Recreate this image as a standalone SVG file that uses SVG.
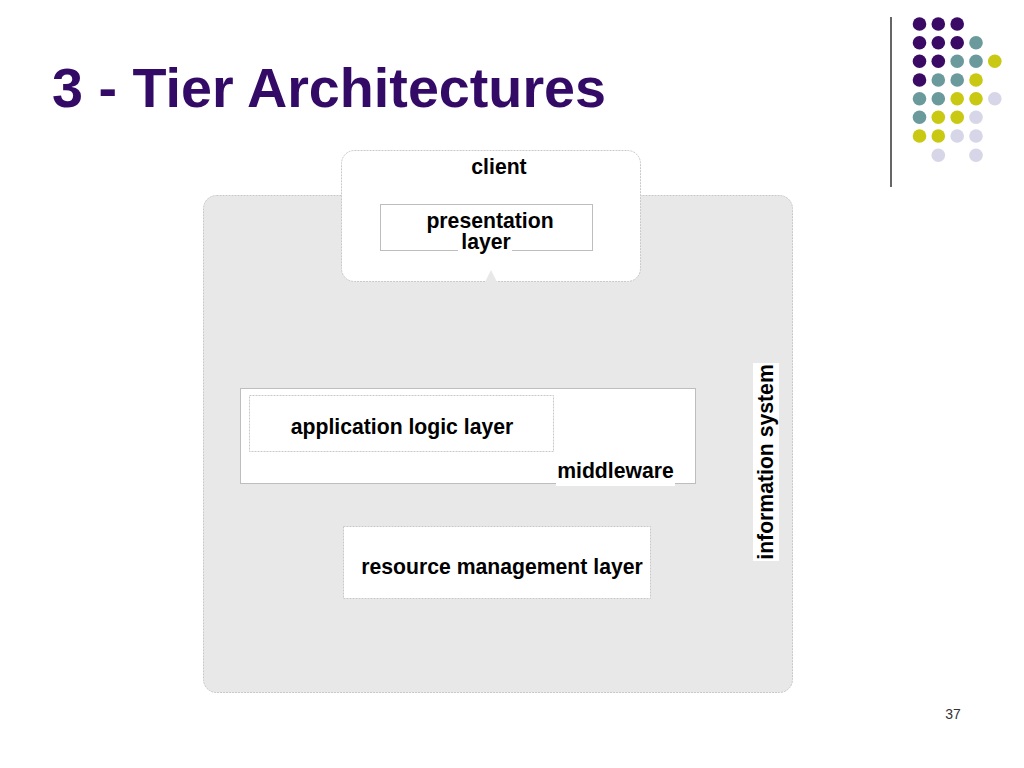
<svg xmlns="http://www.w3.org/2000/svg" width="1024" height="768" viewBox="0 0 1024 768">
<style>
.lbl{font-family:"Liberation Sans",Arial,sans-serif;font-weight:bold;font-size:21.2px;fill:#000}
.box{fill:#fff;stroke:#bdbdbd;stroke-width:1}
.dot{stroke:#c8c8c8;stroke-width:1;stroke-dasharray:2 1}
.p{fill:#3a0a64}.t{fill:#6b9a9c}.y{fill:#c9c914}.l{fill:#d6d6e8}
</style>
<rect width="1024" height="768" fill="#fff"/>
<g id="decoration">
<line x1="891" y1="17" x2="891" y2="187" stroke="#333" stroke-width="1.5"/>
<circle class="p" cx="919.5" cy="24" r="6.8"/><circle class="p" cx="938.3" cy="24" r="6.8"/><circle class="p" cx="957.2" cy="24" r="6.8"/>
<circle class="p" cx="919.5" cy="42.7" r="6.8"/><circle class="p" cx="938.3" cy="42.7" r="6.8"/><circle class="p" cx="957.2" cy="42.7" r="6.8"/><circle class="t" cx="976" cy="42.7" r="6.8"/>
<circle class="p" cx="919.5" cy="61.3" r="6.8"/><circle class="p" cx="938.3" cy="61.3" r="6.8"/><circle class="t" cx="957.2" cy="61.3" r="6.8"/><circle class="t" cx="976" cy="61.3" r="6.8"/><circle class="y" cx="994.8" cy="61.3" r="6.8"/>
<circle class="p" cx="919.5" cy="80" r="6.8"/><circle class="t" cx="938.3" cy="80" r="6.8"/><circle class="t" cx="957.2" cy="80" r="6.8"/><circle class="y" cx="976" cy="80" r="6.8"/>
<circle class="t" cx="919.5" cy="98.7" r="6.8"/><circle class="t" cx="938.3" cy="98.7" r="6.8"/><circle class="y" cx="957.2" cy="98.7" r="6.8"/><circle class="y" cx="976" cy="98.7" r="6.8"/><circle class="l" cx="994.8" cy="98.7" r="6.8"/>
<circle class="t" cx="919.5" cy="117.3" r="6.8"/><circle class="y" cx="938.3" cy="117.3" r="6.8"/><circle class="y" cx="957.2" cy="117.3" r="6.8"/><circle class="l" cx="976" cy="117.3" r="6.8"/>
<circle class="y" cx="919.5" cy="136" r="6.8"/><circle class="y" cx="938.3" cy="136" r="6.8"/><circle class="l" cx="957.2" cy="136" r="6.8"/><circle class="l" cx="976" cy="136" r="6.8"/>
<circle class="l" cx="938.3" cy="155.3" r="6.8"/><circle class="l" cx="976" cy="155.3" r="6.8"/>
</g>
<text x="52" y="107" font-family="Liberation Sans,Arial,sans-serif" font-weight="bold" font-size="55.7" fill="#330a66">3 - Tier Architectures</text>
<g id="information-system">
<rect x="203.5" y="195.5" width="589" height="497" rx="13" fill="#e8e8e8" class="dot"/>
<rect x="753" y="363" width="26" height="198" fill="#fff"/>
<text class="lbl" transform="translate(773,462) rotate(-90)" text-anchor="middle">information system</text>
</g>
<g id="client">
<rect x="341.5" y="150.5" width="299" height="131" rx="13" fill="#fff" class="dot"/>
<text class="lbl" x="499" y="174" text-anchor="middle">client</text>
</g>
<g id="presentation-layer">
<rect class="box" x="380.5" y="204.5" width="212" height="46"/>
<rect x="458" y="236" width="54" height="17" fill="#fff"/>
<text class="lbl" x="490" y="228" text-anchor="middle">presentation</text>
<text class="lbl" x="486" y="249" text-anchor="middle">layer</text>
</g>
<g id="middleware">
<rect class="box" x="240.5" y="388.5" width="455" height="95"/>
<rect x="556" y="460" width="119" height="26" fill="#fff"/>
<text class="lbl" x="615.5" y="478" text-anchor="middle">middleware</text>
</g>
<g id="application-logic-layer">
<rect x="249.5" y="395.5" width="304" height="56" fill="#fff" class="dot"/>
<text class="lbl" x="402" y="434" text-anchor="middle">application logic layer</text>
</g>
<g id="resource-management-layer">
<rect x="343.5" y="526.5" width="307" height="72" fill="#fff" class="dot"/>
<text class="lbl" x="502" y="574" text-anchor="middle">resource management layer</text>
</g>
<g id="connectors">
<polygon points="485,282 491,270 497,282" fill="#e8e8e8"/>
</g>
<text x="953" y="719" font-family="Liberation Sans,Arial,sans-serif" font-size="14" fill="#333" text-anchor="middle">37</text>
</svg>
